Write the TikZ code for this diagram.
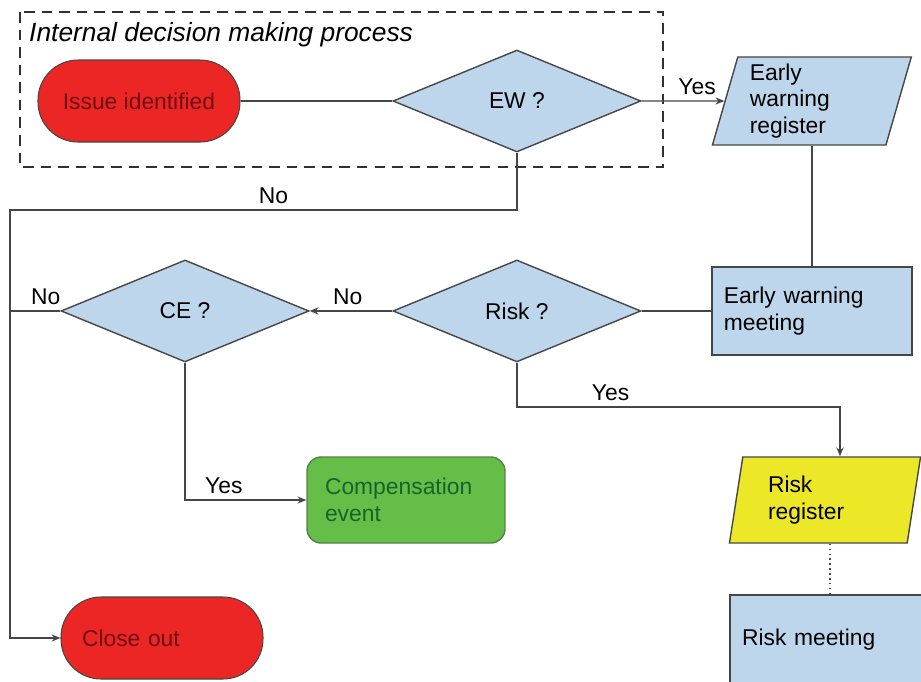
\documentclass[tikz,border=0pt]{standalone}
\usepackage{fontspec}
\setmainfont{Liberation Sans}
\usetikzlibrary{shapes.geometric,arrows.meta,positioning}
\definecolor{boxblue}{RGB}{190,214,236}
\definecolor{termred}{RGB}{236,38,36}
\definecolor{termtext}{RGB}{110,16,16}
\definecolor{compgreen}{RGB}{100,190,72}
\definecolor{comptext}{RGB}{24,100,40}
\definecolor{regyellow}{RGB}{236,232,40}
\definecolor{linegray}{RGB}{70,70,70}

\tikzset{
  flowline/.style={draw=linegray, line width=0.8pt},
  arr/.style={flowline, -{Stealth[length=5pt,width=4pt]}},
  terminal/.style={rectangle, rounded corners=0.8cm, draw=linegray, fill=termred, text=termtext, minimum width=4.04cm, minimum height=1.64cm, line width=0.6pt},
  decision/.style={diamond, draw=linegray, fill=boxblue, minimum width=4.96cm, minimum height=2.04cm, inner sep=0pt, line width=0.8pt},
  process/.style={rectangle, draw=linegray, fill=boxblue, minimum width=4cm, minimum height=1.76cm, align=left, line width=0.8pt},
  register/.style={trapezium, trapezium stretches=true, draw=linegray, fill=boxblue, inner sep=0pt, align=left, line width=0.8pt},
}

\begin{document}
\begin{tikzpicture}[x=0.02cm, y=-0.02cm, font=\fontsize{13}{15}\selectfont]
	\clip (0,0) rectangle (921,681);
	\fill[white] (0,0) rectangle (921,681);

	% internal decision frame
	\draw[linegray!70!black, line width=1.4pt, dash pattern=on 6pt off 4pt] (20,12) rectangle (663,167);
	\node[anchor=west, font=\fontsize{15}{17}\selectfont\itshape] (title) at (23,35) {Internal decision making process};

	\node[terminal] (issue) at (139,101) {Issue identified};
	\node[decision] (ew) [node distance=7.56cm, right of=issue] {EW ?};
	\node[register, trapezium left angle=74, trapezium right angle=106, minimum width=4cm, minimum height=1.76cm, text width=2.48cm] (ewr) [node distance=5.9cm, right of=ew] {Early\\warning\\register};
	\node[process, text width=3.52cm] (ewm) [node distance=4.2cm, below of=ewr] {Early warning\\meeting};
	\node[decision] (risk) [node distance=4.2cm, below of=ew] {Risk ?};
	\node[decision] (ce) [node distance=6.64cm, left of=risk] {CE ?};
	\node[process, rounded corners=0.28cm, fill=compgreen, text=comptext, draw=linegray!50!compgreen, minimum width=3.96cm, minimum height=1.72cm, text width=3.24cm] (comp) at (406,500) {Compensation\\event};
	\node[register, fill=regyellow, trapezium left angle=79, trapezium right angle=101, minimum width=3.84cm, minimum height=1.72cm, text width=2.28cm] (rreg) at (825,500) {Risk\\register};
	\node[process, text width=3.52cm, minimum height=1.8cm] (rmeet) at (830,640) {Risk meeting};
	\node[terminal, text width=3.2cm, align=left] (close) at (162,638) {Close out};

	\coordinate (nobend) at (10,210);
	\coordinate (yesbend) at (840,407);

	\draw[flowline] (issue.east) -- (ew.west);
	\draw[arr] (ew.east) -- node[above, pos=0.67] {Yes} (ewr.west);
	\draw[flowline] (ewm.north) -- (ewm.north |- ewr.south);
	\draw[flowline] (ewm.west) -- (risk.east);
	\draw[arr] (risk.west) -- node[above, pos=0.54] {No} (ce.east);
	\draw[flowline] (ce.west) -- node[above, pos=0.29] {No} (ce.west -| nobend);
	\draw[arr] (ew.south) |- node[above, pos=0.74] {No} (nobend) |- (close.west);
	\draw[arr] (ce.south) |- node[above, pos=0.66] {Yes} (comp.west);
	\draw[arr] (risk.south) |- node[above, pos=0.645] {Yes} (yesbend) -- (yesbend |- rreg.north);
	\draw[flowline, dotted, line width=0.6pt] (rmeet.north) -- (rmeet.north |- rreg.south);
\end{tikzpicture}
\end{document}
